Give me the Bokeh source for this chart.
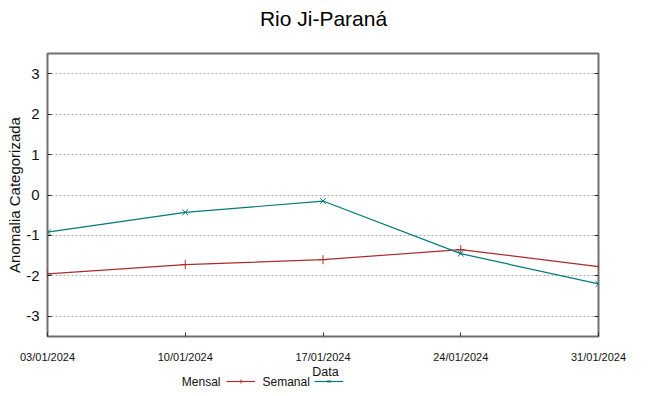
import pandas as pd
from bokeh.plotting import figure
from bokeh.layouts import column
from bokeh.models import (Range1d, FixedTicker, DatetimeTickFormatter, LinearAxis,
                          Legend, LegendItem, Label)
from bokeh.embed import file_html
from bokeh.resources import INLINE

# ---- data ----
dates = ["03/01/2024", "10/01/2024", "17/01/2024", "24/01/2024", "31/01/2024"]
mensal = [-1.95, -1.72, -1.60, -1.35, -1.77]
semanal = [-0.92, -0.43, -0.15, -1.45, -2.20]
y_ticks = [-3, -2, -1, 0, 1, 2, 3]
series_names = ["Mensal", "Semanal"]
title_text = "Rio Ji-Paraná"
x_label = "Data"
y_label = "Anomalia Categorizada"

x = pd.to_datetime(dates, format="%d/%m/%Y")
x_ms = [int(t.value // 10**6) for t in x]

RED = "#ad2b2b"
TEAL = "#007a7a"
SANS = "Liberation Sans"
W = 633


def bare(height):
    f = figure(width=W, height=height, output_backend="svg", toolbar_location=None,
               x_axis_location=None, y_axis_location=None, min_border=0,
               x_range=Range1d(x[0], x[-1]), y_range=Range1d(100, 101))
    f.outline_line_color = None
    f.grid.visible = False
    return f


# ---- title strip ----
pt = bare(37)
pt.add_layout(Label(x=276, y=19, x_units="screen", y_units="screen", text=title_text,
                    text_font=SANS, text_font_size="21px", text_align="center",
                    text_baseline="middle", text_color="#000000"))

# ---- main plot ----
p = figure(width=W, height=329, output_backend="svg", toolbar_location=None,
           x_axis_type="datetime",
           x_range=Range1d(x[0], x[-1]), y_range=Range1d(-3.5, 3.5),
           min_border_left=47, min_border_right=35, min_border_top=16, min_border_bottom=30)

p.outline_line_color = "#707070"
p.outline_line_width = 2

p.xgrid.grid_line_color = None
p.ygrid.grid_line_color = "#a8a8a8"
p.ygrid.grid_line_dash = "2 2"
p.ygrid.grid_line_width = 1
p.ygrid.ticker = FixedTicker(ticks=y_ticks)

xa = p.xaxis[0]
xa.ticker = FixedTicker(ticks=x_ms)
fmt = "%d/%m/%Y"
xa.formatter = DatetimeTickFormatter(milliseconds=fmt, seconds=fmt, minsec=fmt, minutes=fmt,
                                     hourmin=fmt, hours=fmt, days=fmt, months=fmt, years=fmt)
xa.major_label_text_font = SANS
xa.major_label_text_font_size = "11px"
xa.major_label_text_color = "#111111"
xa.major_label_standoff = 14
xa.axis_line_color = None
xa.major_tick_in = 4
xa.major_tick_out = 0
xa.major_tick_line_color = "#333333"
xa.minor_tick_line_color = None

ya = p.yaxis[0]
ya.ticker = FixedTicker(ticks=y_ticks)
ya.major_label_overrides = {v: str(v) for v in y_ticks}
ya.axis_label = y_label
ya.axis_label_text_font = SANS
ya.axis_label_text_font_size = "15px"
ya.axis_label_text_font_style = "normal"
ya.axis_label_text_color = "#111111"
ya.axis_label_standoff = 0
ya.major_label_text_font = SANS
ya.major_label_text_font_size = "15px"
ya.major_label_text_color = "#111111"
ya.major_label_standoff = 8
ya.axis_line_color = None
ya.major_tick_in = 4
ya.major_tick_out = 0
ya.major_tick_line_color = "#222222"
ya.minor_tick_line_color = None

ra = LinearAxis(ticker=FixedTicker(ticks=y_ticks), major_label_text_font_size="0px",
                axis_line_color=None, major_tick_in=4, major_tick_out=0,
                major_tick_line_color="#222222", minor_tick_line_color=None)
ra.major_label_text_color = None
p.add_layout(ra, "right")

p.line(x, mensal, line_color=RED, line_width=1.2)
p.scatter(x, mensal, marker="cross", size=9, line_color=RED, line_width=1)
p.line(x, semanal, line_color=TEAL, line_width=1.2)
p.scatter(x, semanal, marker="x", size=8, line_color=TEAL, line_width=1)

# ---- x label + legend strip ----
pl = bare(22)
pl.add_layout(Label(x=278, y=17, x_units="screen", y_units="screen", text=x_label,
                    text_font=SANS, text_font_size="12.5px", text_align="center",
                    text_baseline="middle", text_color="#111111"))
# series renderers (same data; used for the legend samples, data lies outside this strip's range)
r1 = [pl.line(x, mensal, line_color=RED, line_width=1.2),
      pl.scatter(x, mensal, marker="cross", size=9, line_color=RED, line_width=1)]
r2 = [pl.line(x, semanal, line_color=TEAL, line_width=1.2),
      pl.scatter(x, semanal, marker="x", size=8, line_color=TEAL, line_width=1)]
legend = Legend(items=[LegendItem(label="", renderers=r1),
                       LegendItem(label="", renderers=r2)],
                orientation="horizontal", location=(179, 2),
                glyph_width=29, glyph_height=10, label_height=10, label_width=0,
                label_standoff=0, spacing=59, padding=0, margin=0,
                border_line_color=None, background_fill_alpha=0)
pl.add_layout(legend, "center")
pl.add_layout(Label(x=173, y=7, x_units="screen", y_units="screen", text=series_names[0],
                    text_font=SANS, text_font_size="12px", text_align="right",
                    text_baseline="middle", text_color="#111111"))
pl.add_layout(Label(x=215, y=7, x_units="screen", y_units="screen", text=series_names[1],
                    text_font=SANS, text_font_size="12px", text_align="left",
                    text_baseline="middle", text_color="#111111"))

layout = column(pt, p, pl, spacing=0)
open("out.html", "w").write(file_html(layout, INLINE))
